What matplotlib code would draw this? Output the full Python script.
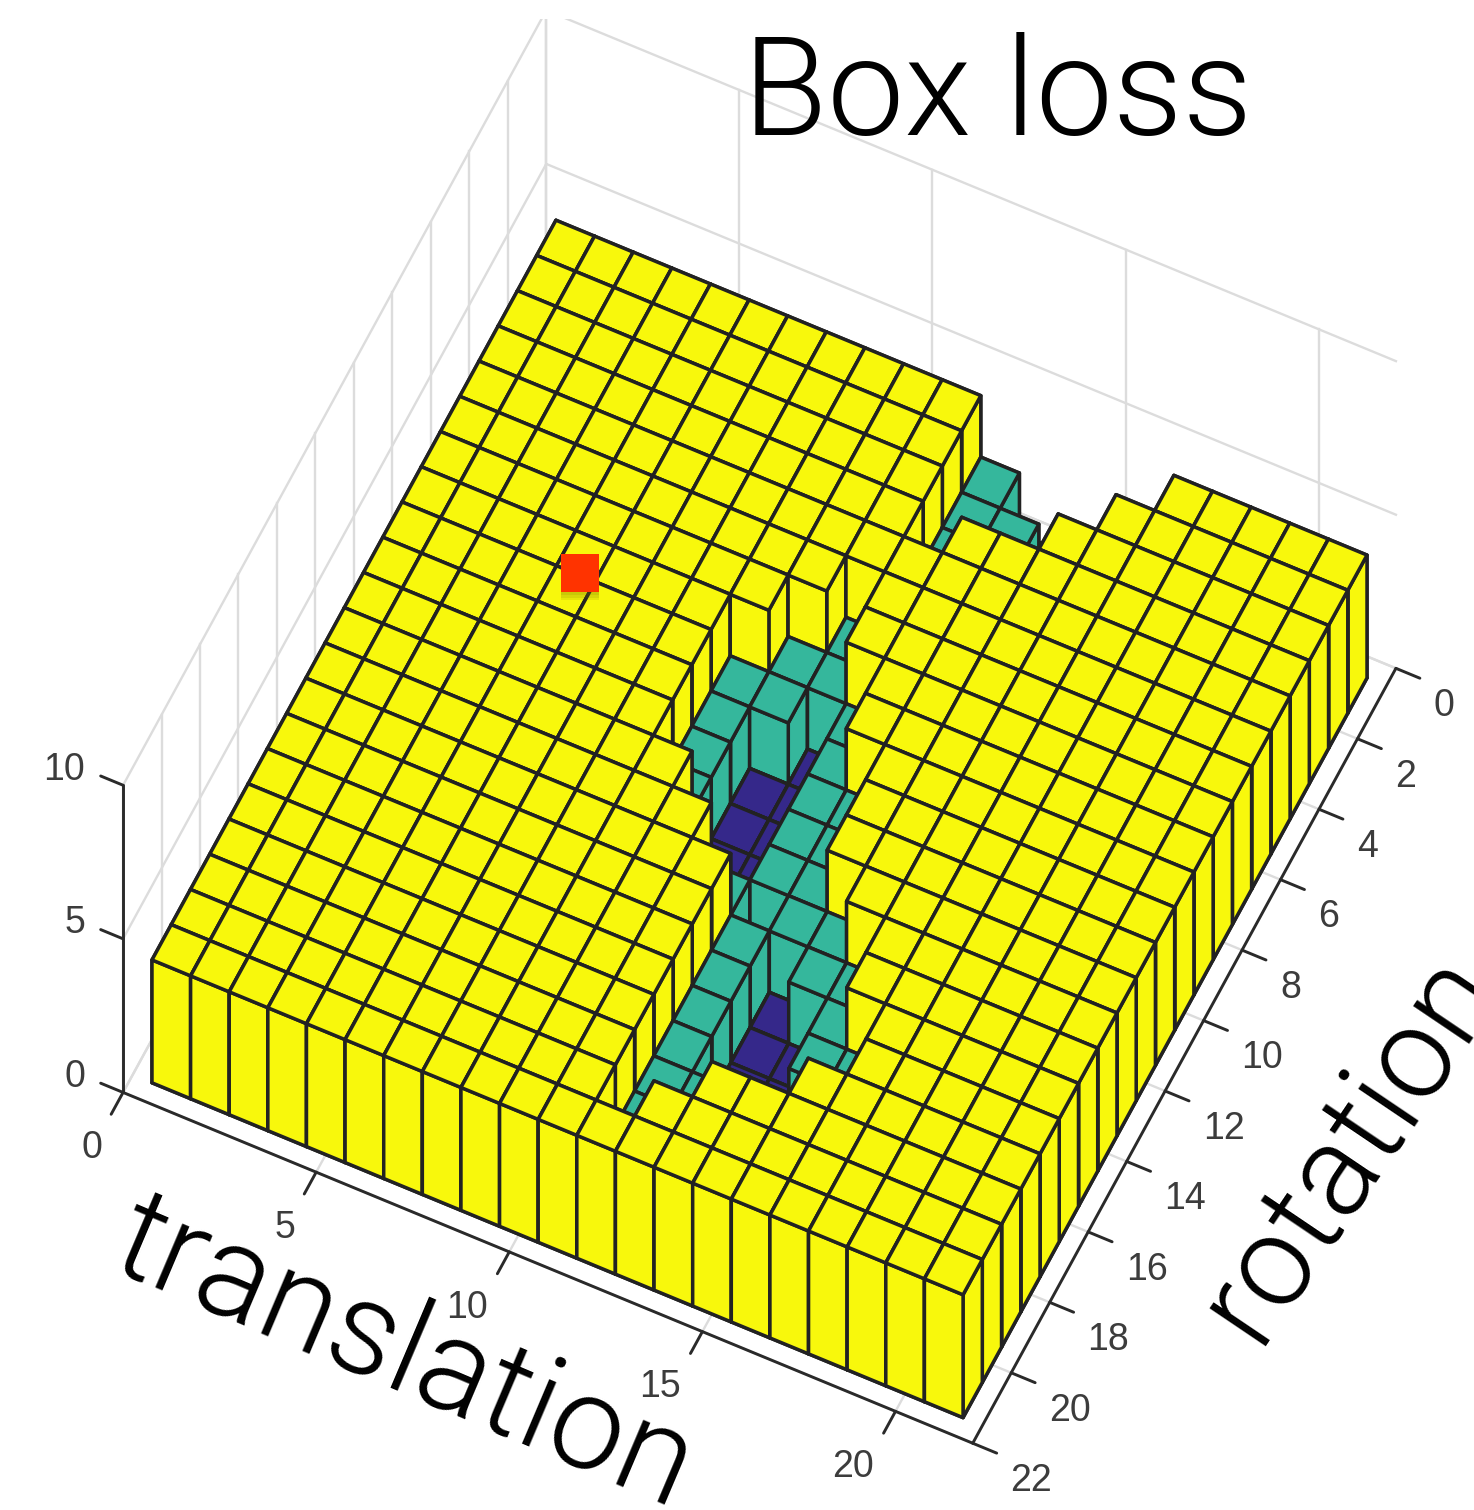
#!/usr/bin/env python3
"""Box loss surface: 3D bars over translation and rotation."""

import matplotlib
matplotlib.use("Agg")
import matplotlib.pyplot as plt
import matplotlib.patheffects as pe
from mpl_toolkits.mplot3d import proj3d

FIG_W, FIG_H = 1474, 1510

# loss per cell, one row per rotation step (1..21), one column per translation step (1..21)
box_loss = [
    [4, 4, 4, 4, 4, 4, 4, 4, 4, 4, 4, 2, 0, 0, 0, 0, 4, 4, 4, 4, 4],
    [4, 4, 4, 4, 4, 4, 4, 4, 4, 4, 4, 2, 2, 0, 0, 4, 4, 4, 4, 4, 4],
    [4, 4, 4, 4, 4, 4, 4, 4, 4, 4, 4, 2, 2, 2, 4, 4, 4, 4, 4, 4, 4],
    [4, 4, 4, 4, 4, 4, 4, 4, 4, 4, 4, 2, 4, 4, 4, 4, 4, 4, 4, 4, 4],
    [4, 4, 4, 4, 4, 4, 4, 4, 4, 4, 4, 4, 4, 4, 4, 4, 4, 4, 4, 4, 4],
    [4, 4, 4, 4, 4, 4, 4, 4, 4, 4, 2, 4, 4, 4, 4, 4, 4, 4, 4, 4, 4],
    [4, 4, 4, 4, 4, 4, 4, 4, 4, 2, 2, 4, 4, 4, 4, 4, 4, 4, 4, 4, 4],
    [4, 4, 4, 4, 4, 4, 4, 4, 2, 2, 0, 2, 4, 4, 4, 4, 4, 4, 4, 4, 4],
    [4, 4, 4, 4, 4, 4, 4, 4, 2, 0, 0, 2, 4, 4, 4, 4, 4, 4, 4, 4, 4],
    [4, 4, 4, 4, 4, 4, 4, 4, 2, 0, 0, 2, 2, 4, 4, 4, 4, 4, 4, 4, 4],
    [4, 4, 4, 4, 4, 4, 4, 4, 2, 0, 0, 2, 2, 4, 4, 4, 4, 4, 4, 4, 4],
    [4, 4, 4, 4, 4, 4, 4, 4, 4, 0, 0, 2, 2, 4, 4, 4, 4, 4, 4, 4, 4],
    [4, 4, 4, 4, 4, 4, 4, 4, 4, 4, 2, 0, 2, 2, 4, 4, 4, 4, 4, 4, 4],
    [4, 4, 4, 4, 4, 4, 4, 4, 4, 4, 4, 2, 0, 2, 2, 4, 4, 4, 4, 4, 4],
    [4, 4, 4, 4, 4, 4, 4, 4, 4, 4, 4, 2, 0, 0, 2, 4, 4, 4, 4, 4, 4],
    [4, 4, 4, 4, 4, 4, 4, 4, 4, 4, 4, 2, 0, 0, 2, 2, 4, 4, 4, 4, 4],
    [4, 4, 4, 4, 4, 4, 4, 4, 4, 4, 4, 2, 0, 0, 0, 2, 4, 4, 4, 4, 4],
    [4, 4, 4, 4, 4, 4, 4, 4, 4, 4, 4, 2, 2, 0, 0, 4, 4, 4, 4, 4, 4],
    [4, 4, 4, 4, 4, 4, 4, 4, 4, 4, 4, 2, 2, 4, 4, 4, 4, 4, 4, 4, 4],
    [4, 4, 4, 4, 4, 4, 4, 4, 4, 4, 4, 2, 4, 4, 4, 4, 4, 4, 4, 4, 4],
    [4, 4, 4, 4, 4, 4, 4, 4, 4, 4, 4, 4, 4, 4, 4, 4, 4, 4, 4, 4, 4],
]
level_colors = {4: "#F8F80C", 2: "#35B79C", 0: "#35288A"}

x_ticks = [0, 5, 10, 15, 20]
y_ticks = [0, 2, 4, 6, 8, 10, 12, 14, 16, 18, 20, 22]
z_ticks = [0, 5, 10]

best_point = (5.08, 8.44, 4.0)

LIMIT = 22
ZMAX = 10
EDGE = "#222222"
GRID = "#dcdcdc"
AXIS = "#2a2a2a"
TICK_TEXT = "#3c3c3c"
SANS = "Liberation Sans"
LIGHT = "Roboto"


def project(ax, x, y, z):
    """Data point to picture pixels, y measured from the top."""
    u, v, _ = proj3d.proj_transform(x, y, z, ax.get_proj())
    px, py = ax.transData.transform((u, v))
    return px, FIG_H - py


def set_square(ax, side, cx, cy):
    ax.set_position([(cx - side / 2) / FIG_W, (FIG_H - cy - side / 2) / FIG_H,
                     side / FIG_W, side / FIG_H])


def place_axes(ax):
    """Scale and shift the square axes so the bar block lands where the chart has it."""
    side, cx, cy = 1000.0, FIG_W / 2, FIG_H / 2
    set_square(ax, side, cx, cy)
    left = project(ax, 0.5, 21.5, 4)
    right = project(ax, 21.5, 0.5, 4)
    side *= (1367 - 152) / (right[0] - left[0])
    set_square(ax, side, cx, cy)
    left = project(ax, 0.5, 21.5, 4)
    right = project(ax, 21.5, 0.5, 4)
    back = project(ax, 0.5, 0.5, 4)
    front = project(ax, 21.5, 21.5, 4)
    cx += (152 + 1367) / 2 - (left[0] + right[0]) / 2
    cy += (220 + 1295) / 2 - (back[1] + front[1]) / 2
    set_square(ax, side, cx, cy)


def draw_walls(ax):
    # back walls and floor, behind every bar
    grid = dict(color=GRID, lw=1.7, zorder=1)
    for z in z_ticks:
        ax.plot([0, 0], [LIMIT, 0], [z, z], **grid)
        ax.plot([0, LIMIT], [0, 0], [z, z], **grid)
    for y in y_ticks:
        ax.plot([0, 0], [y, y], [0, ZMAX], **grid)
        ax.plot([0, LIMIT], [y, y], [0, 0], **grid)
    for x in x_ticks:
        ax.plot([x, x], [0, 0], [0, ZMAX], **grid)
        ax.plot([x, x], [0, LIMIT], [0, 0], **grid)


def draw_bars(ax):
    # one collection per bar, back to front, so tall walls cover the right cells
    order = 10
    for i in range(21):
        for j in range(21):
            h = box_loss[j][i]
            ax.bar3d(i + 0.5, j + 0.5, 0, 1, 1, h, color=level_colors[h],
                     edgecolor=EDGE, linewidth=2.5, shade=False, zorder=order)
            order += 1


def draw_axes(ax):
    line = dict(color=AXIS, lw=2.1, zorder=1000, solid_capstyle="round")
    ax.plot([0, 0], [LIMIT, LIMIT], [0, ZMAX], **line)
    ax.plot([0, LIMIT], [LIMIT, LIMIT], [0, 0], **line)
    ax.plot([LIMIT, LIMIT], [0, LIMIT], [0, 0], **line)
    for z in z_ticks:
        ax.plot([0, -0.58], [LIMIT, LIMIT], [z, z], **line)
    for x in x_ticks:
        ax.plot([x, x], [LIMIT, LIMIT + 0.62], [0, 0], **line)
    for y in y_ticks:
        ax.plot([LIMIT, LIMIT + 0.62], [y, y], [0, 0], **line)


def tick_label(fig, ax, x, y, z, text, ha):
    px, py = project(ax, x, y, z)
    fig.text(px / FIG_W, 1 - py / FIG_H, text, family=SANS, fontsize=27, color=TICK_TEXT,
             ha=ha, va="center")


def draw_tick_labels(fig, ax):
    for z in z_ticks:
        tick_label(fig, ax, -0.98, LIMIT, z, str(z), "right")
    for x in x_ticks:
        tick_label(fig, ax, x, LIMIT + 1.1, -0.55, str(x), "right")
    for y in y_ticks:
        tick_label(fig, ax, LIMIT + 0.98, y, -0.72, str(y), "left")


def main():
    plt.rcParams["font.family"] = [SANS, "DejaVu Sans"]
    fig = plt.figure(figsize=(FIG_W / 100, FIG_H / 100), dpi=100)
    ax = fig.add_subplot(projection="3d", proj_type="ortho", computed_zorder=False)
    ax.set_axis_off()
    ax.view_init(elev=60.4, azim=-64.6)

    draw_walls(ax)
    draw_bars(ax)
    draw_axes(ax)

    # soft shadow under the red marker, then the marker
    shadow = [pe.SimplePatchShadow(offset=(0, -off), shadow_rgbFace="#6e6e00", alpha=0.13)
              for off in (2, 4, 6)]
    ax.plot([best_point[0]], [best_point[1]], [best_point[2]], marker="s", ms=27.4,
            color="#FF3300", mew=0, zorder=1002, path_effects=shadow + [pe.Normal()])

    ax.set_xlim(0, LIMIT)
    ax.set_ylim(LIMIT, 0)
    ax.set_zlim(0, ZMAX)
    ax.set_box_aspect((940.7, 986.7, 622.0))
    place_axes(ax)
    draw_tick_labels(fig, ax)

    big = dict(family=[LIGHT, "DejaVu Sans"], fontweight=300, color="black")
    fig.text(998 / FIG_W, 1 - 135 / FIG_H, "Box loss", fontsize=99, ha="center", va="baseline", **big)
    fig.text(405 / FIG_W, 1 - 1355 / FIG_H, "translation", fontsize=95, rotation=-23,
             rotation_mode="anchor", ha="center", va="center", **big)
    fig.text(1349 / FIG_W, 1 - 1146 / FIG_H, "rotation", fontsize=92, rotation=56,
             rotation_mode="anchor", ha="center", va="center", **big)

    fig.savefig("out.png", dpi=100)


if __name__ == "__main__":
    main()
